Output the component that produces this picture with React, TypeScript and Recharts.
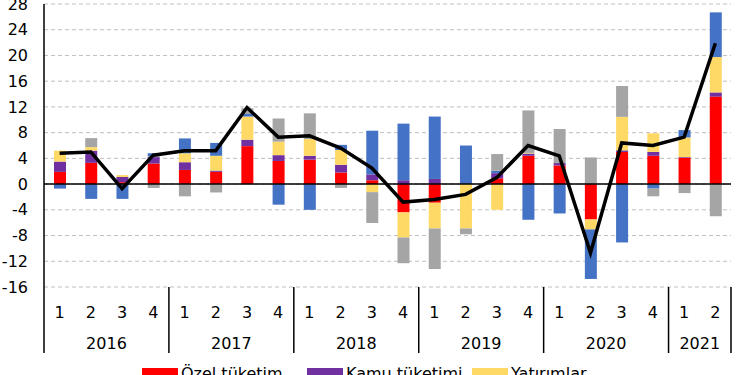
import React from "react"
import { Bar, ComposedChart, Line, XAxis, YAxis, CartesianGrid, ReferenceLine } from "recharts"

const years = ["2016", "2016", "2016", "2016", "2017", "2017", "2017", "2017", "2018", "2018", "2018", "2018", "2019", "2019", "2019", "2019", "2020", "2020", "2020", "2020", "2021", "2021"]
const quarters = ["1", "2", "3", "4", "1", "2", "3", "4", "1", "2", "3", "4", "1", "2", "3", "4", "1", "2", "3", "4", "1", "2"]

const ozelTuketim = [1.9, 3.3, 0.3, 3.2, 2.2, 1.9, 5.9, 3.6, 3.8, 1.8, 0.6, -4.4, -2.9, 0, 0.9, 4.4, 2.9, -5.5, 5.0, 4.4, 4.1, 13.6]
const kamuTuketimi = [1.6, 1.9, 0.8, 1.0, 1.2, 0.2, 1.0, 0.9, 0.6, 1.2, 0.9, 0.6, 0.8, 0, 0.8, 0.35, 0.37, 0, 0.25, 0.6, 0.1, 0.65]
const yatirimlar = [1.7, 0.55, 0.3, 0.1, 1.4, 2.3, 3.6, 2.1, 2.6, 2.3, -1.25, -3.9, -4.0, -6.9, -4.0, 0.1, 0, -1.55, 5.2, 2.9, 3.05, 5.5]
const netIhracat = [-0.7, -2.3, -2.3, 0.5, 2.3, 2.0, 0.4, -3.2, -4.0, 0.8, 6.8, 8.8, 9.7, 6.0, 0.37, -5.55, -4.57, -7.7, -9.07, -0.7, 1.15, 6.95]
const stokDegisimi = [0, 1.4, 0, -0.6, -1.9, -1.3, 0.9, 3.6, 4.0, -0.6, -4.8, -4.0, -6.3, -0.9, 2.6, 6.6, 5.3, 4.14, 4.8, -1.2, -1.4, -5.0]
const gsyh = [4.8, 5.0, -0.7, 4.5, 5.2, 5.2, 11.9, 7.3, 7.5, 5.6, 2.5, -2.8, -2.4, -1.6, 1.0, 6.0, 4.4, -10.7, 6.4, 6.0, 7.3, 21.9]

const yTicks = [-16, -12, -8, -4, 0, 4, 8, 12, 16, 20, 24, 28]

const data = quarters.map((q, i) => ({
  key: `${years[i]}-${q}`,
  q,
  year: years[i],
  ozel: ozelTuketim[i],
  kamu: kamuTuketimi[i],
  yatirim: yatirimlar[i],
  ihracat: netIhracat[i],
  stok: stokDegisimi[i],
  gsyh: gsyh[i],
}))

const legendItems = [
  { name: "Özel tüketim", color: "#FF0000" },
  { name: "Kamu tüketimi", color: "#7030A0" },
  { name: "Yatırımlar", color: "#FFD966" },
  { name: "Net ihracat", color: "#4472C4" },
  { name: "Stok değişimi", color: "#A5A5A5" },
  { name: "GSYH", color: "#000000" },
]

const W = 750
const H = 375
const MARGIN = { top: 4, right: 19, left: 0, bottom: 18 }
const Y_W = 44
const FONT = "DejaVu Sans, Verdana, sans-serif"
const band = (W - MARGIN.left - MARGIN.right - Y_W) / data.length

const QuarterTick = (props: any) => {
  const { x, y, index } = props
  const d = data[index]
  if (!d) return null
  const isFirst = index === 0 || data[index - 1].year !== d.year
  const isLast = index === data.length - 1
  let yearLabel = null
  if (isFirst) {
    const count = data.filter((r) => r.year === d.year).length
    const cx = x + ((count - 1) / 2) * band
    yearLabel = (
      <text x={cx} y={y + 62} textAnchor="middle" fontSize={16} fontFamily={FONT} fill="#000">
        {d.year}
      </text>
    )
  }
  return (
    <g>
      <text x={x} y={y + 31} textAnchor="middle" fontSize={16} fontFamily={FONT} fill="#000">
        {d.q}
      </text>
      {yearLabel}
      {isFirst && <line x1={x - band / 2} x2={x - band / 2} y1={y} y2={y + 66} stroke="#000" strokeWidth={1.5} />}
      {isLast && <line x1={x + band / 2} x2={x + band / 2} y1={y} y2={y + 66} stroke="#000" strokeWidth={1.5} />}
    </g>
  )
}

export default function App() {
  return (
    <div style={{ position: "absolute", left: 0, top: 0, width: W, height: H, overflow: "hidden", background: "#fff" }}>
      <ComposedChart width={W} height={H} data={data} margin={MARGIN} stackOffset="sign" barSize={12}>
        <CartesianGrid vertical={false} stroke="#BFBFBF" strokeDasharray="4 3" />
        <XAxis
          dataKey="key"
          interval={0}
          tickLine={false}
          axisLine={false}
          tickSize={0}
          tickMargin={0}
          height={70}
          tick={<QuarterTick />}
        />
        <YAxis
          domain={[-16, 28]}
          ticks={yTicks}
          width={Y_W}
          tickLine={false}
          tickSize={0}
          tickMargin={16}
          axisLine={{ stroke: "#000", strokeWidth: 1.5 }}
          tick={{ fill: "#000", fontSize: 16, fontFamily: FONT }}
          interval={0}
        />
        <ReferenceLine y={0} stroke="#000" strokeWidth={1.5} />
        <Bar dataKey="ozel" stackId="a" fill="#FF0000" isAnimationActive={false} />
        <Bar dataKey="kamu" stackId="a" fill="#7030A0" isAnimationActive={false} />
        <Bar dataKey="yatirim" stackId="a" fill="#FFD966" isAnimationActive={false} />
        <Bar dataKey="ihracat" stackId="a" fill="#4472C4" isAnimationActive={false} />
        <Bar dataKey="stok" stackId="a" fill="#A5A5A5" isAnimationActive={false} />
        <Line dataKey="gsyh" type="linear" stroke="#000" strokeWidth={3.5} dot={false} isAnimationActive={false} />
      </ComposedChart>
      <div style={{ position: "absolute", left: 142, top: 366, width: 495, display: "flex", flexWrap: "wrap", fontFamily: FONT, fontSize: 16 }}>
        {legendItems.map((it) => (
          <div key={it.name} style={{ position: "relative", width: 165, height: 24 }}>
            <div style={{ position: "absolute", left: 0, top: it.name === "GSYH" ? 6 : 2, width: 36, height: it.name === "GSYH" ? 3 : 10, background: it.color }} />
            <div style={{ position: "absolute", left: 39, top: 0, lineHeight: "16px", whiteSpace: "nowrap", color: "#000" }}>{it.name}</div>
          </div>
        ))}
      </div>
    </div>
  )
}
